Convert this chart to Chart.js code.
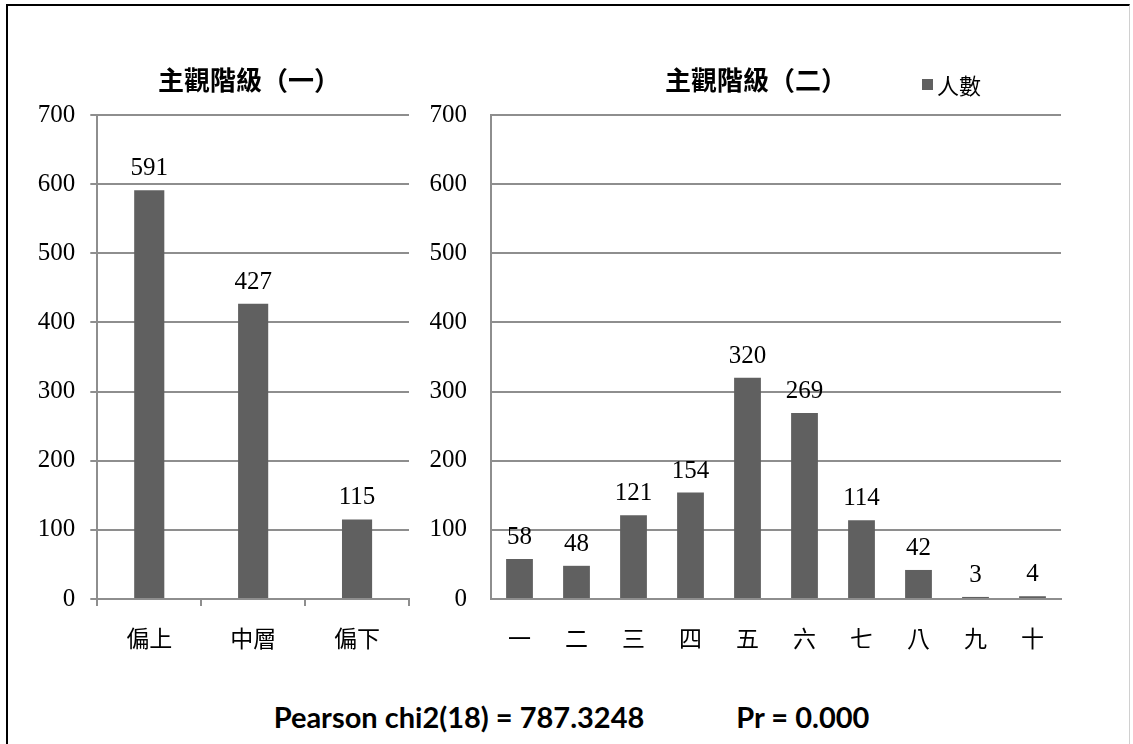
<!DOCTYPE html>
<html>
<head>
<meta charset="utf-8">
<script src="https://cdn.jsdelivr.net/npm/chart.js@4"></script>
<style>
  html, body { margin: 0; padding: 0; background: #fff; }
  #page { position: relative; width: 1133px; height: 744px; overflow: hidden; background: #fff; }
  #frame { position: absolute; left: 6px; top: 4px; width: 1124px; height: 760px;
           border-left: 2px solid #000; border-top: 2px solid #000; border-right: 1px solid #d0d0d0; box-sizing: border-box; }
  canvas { position: absolute; }
  #legend { position: absolute; left: 922px; top: 68px; display: flex; align-items: center;
            font-family: "Noto Sans CJK TC", sans-serif; font-size: 22px; color: #000; }
  #legend .swatch { display: inline-block; width: 11px; height: 11px; margin-right: 4px; }
  #stat { position: absolute; left: 10px; width: 1123px; top: 699px; text-align: center;
          font-family: Lato, "Open Sans", sans-serif; font-weight: bold; font-size: 29px; color: #000; }
  #stat span + span { margin-left: 92px; }
</style>
</head>
<body>
<div id="page">
  <div id="frame"></div>
  <canvas id="chartA" width="498" height="630" style="left:0px;top:40px;width:498px;height:630px"></canvas>
  <canvas id="chartB" width="672" height="630" style="left:420px;top:40px;width:672px;height:630px"></canvas>
  <div id="legend"></div>
  <div id="stat"></div>
</div>
<script>
// Subjective class: three-level answer and ten-step ladder
const seriesName = '人數';
const titleA = '主觀階級（一）';
const titleB = '主觀階級（二）';
const levelLabels = ['偏上', '中層', '偏下'];
const levelCounts = [591, 427, 115];
const ladderLabels = ['一', '二', '三', '四', '五', '六', '七', '八', '九', '十'];
const ladderCounts = [58, 48, 121, 154, 320, 269, 114, 42, 3, 4];
const yMin = 0;
const yMax = 700;
const yStep = 100;
const statParts = ['Pearson chi2(18) = 787.3248', 'Pr = 0.000'];

const barColor = '#606060';
const lineColor = '#8e8e8e';
const serif = '"Liberation Serif", "Times New Roman", serif';
const cjk = '"Noto Sans CJK TC", "Noto Sans CJK SC", sans-serif';

Chart.defaults.animation = false;
Chart.defaults.devicePixelRatio = 1;

// Value printed above each bar
const barValueLabels = {
  id: 'barValueLabels',
  afterDatasetsDraw(chart) {
    const ctx = chart.ctx;
    ctx.save();
    ctx.font = '25px ' + serif;
    ctx.fillStyle = '#000';
    ctx.textAlign = 'center';
    ctx.textBaseline = 'alphabetic';
    chart.data.datasets.forEach((ds, i) => {
      chart.getDatasetMeta(i).data.forEach((bar, j) => {
        ctx.fillText(String(ds.data[j]), bar.x, bar.y - 15);
      });
    });
    ctx.restore();
  }
};

function makeChart(id, labels, values, opts) {
  return new Chart(document.getElementById(id), {
    type: 'bar',
    data: {
      labels: labels,
      datasets: [{
        label: seriesName,
        data: values,
        backgroundColor: barColor,
        borderWidth: 0,
        categoryPercentage: 1,
        barPercentage: opts.barPct,
        yAxisID: 'y'
      }]
    },
    options: {
      responsive: false,
      layout: { padding: 0 },
      plugins: {
        legend: { display: false },
        tooltip: { enabled: false },
        title: {
          display: true,
          text: opts.title,
          color: '#000',
          font: { family: cjk, size: 26, weight: 'bold', lineHeight: 1.2 },
          padding: { top: 24.4, bottom: 19.4 }
        }
      },
      scales: {
        x: {
          grid: {
            display: true, drawOnChartArea: false, drawTicks: true, tickLength: 7,
            offset: true, color: lineColor, tickColor: opts.xTickColor, lineWidth: 2
          },
          border: { display: true, color: lineColor, width: 2 },
          ticks: { color: '#000', font: { family: cjk, size: 23 }, padding: 18, maxRotation: 0, autoSkip: false },
          afterFit(scale) { scale.height = 71; }
        },
        y: {
          position: 'left',
          min: yMin,
          max: yMax,
          grid: { color: lineColor, lineWidth: 2, drawTicks: opts.yTicks, tickLength: 7 },
          border: { display: true, color: lineColor, width: 2 },
          ticks: { stepSize: yStep, color: '#000', font: { family: serif, size: 25 }, padding: opts.yPad },
          afterFit(scale) { scale.width = opts.yWidth; }
        },
        // empty right-hand margin that keeps the title centred over the panel
        gap: {
          type: 'linear',
          position: 'right',
          display: true,
          grid: { display: false, drawTicks: false },
          border: { display: false },
          ticks: { display: false },
          afterFit(scale) { scale.width = opts.rightGap; }
        }
      }
    },
    plugins: [barValueLabels]
  });
}

const chartA = makeChart('chartA', levelLabels, levelCounts, {
  title: titleA, barPct: 0.29, yWidth: 97.3, rightGap: 89,
  yTicks: true, yPad: 15, xTickColor: lineColor
});
const chartB = makeChart('chartB', ladderLabels, ladderCounts, {
  title: titleB, barPct: 0.47, yWidth: 71, rightGap: 31,
  yTicks: false, yPad: 24, xTickColor: 'rgba(0,0,0,0)'
});

// Legend built from the second chart's dataset
(function buildLegend() {
  const box = document.getElementById('legend');
  chartB.data.datasets.forEach(ds => {
    const sw = document.createElement('span');
    sw.className = 'swatch';
    sw.style.background = ds.backgroundColor;
    const tx = document.createElement('span');
    tx.textContent = ds.label;
    box.appendChild(sw);
    box.appendChild(tx);
  });
})();

// Test statistic line under the charts
(function buildStat() {
  const box = document.getElementById('stat');
  statParts.forEach(t => {
    const s = document.createElement('span');
    s.textContent = t;
    box.appendChild(s);
  });
})();
</script>
</body>
</html>
